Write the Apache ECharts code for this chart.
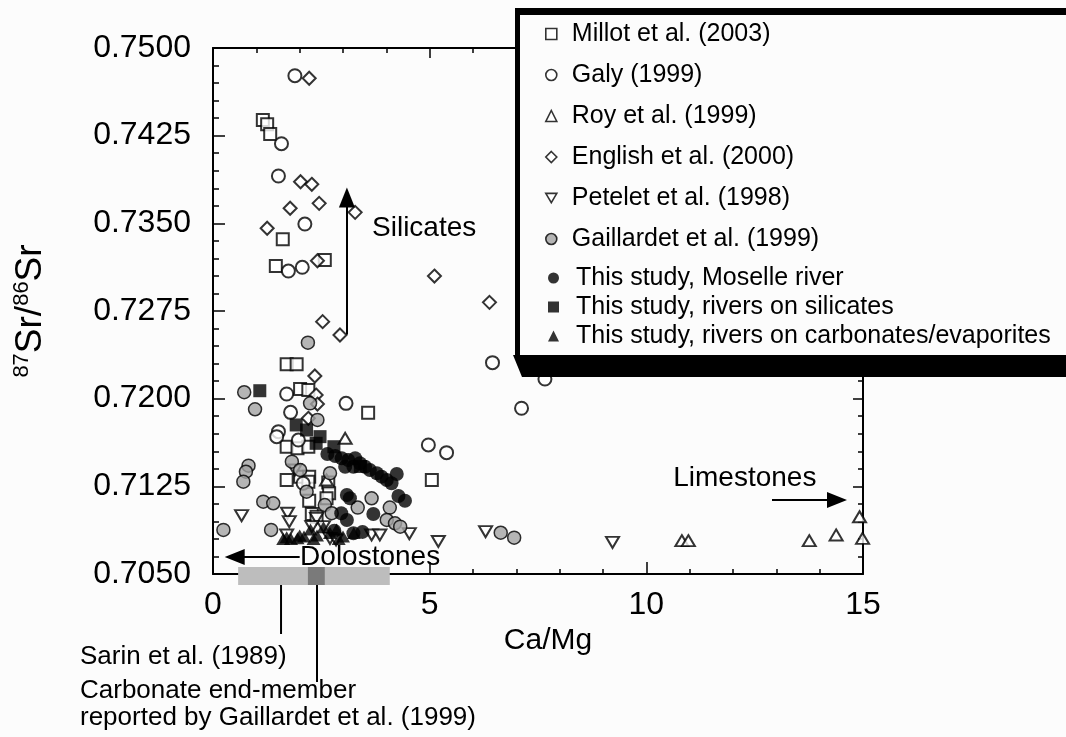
<!DOCTYPE html>
<html>
<head>
<meta charset="utf-8">
<script src="https://cdn.jsdelivr.net/npm/echarts@6/dist/echarts.min.js"></script>
<style>
  html, body { margin: 0; padding: 0; background: #fcfcfc; }
  #chart { width: 1066px; height: 737px; }
</style>
</head>
<body>
<div id="chart"></div>
<script>
const FONT = '"Liberation Sans", Arial, sans-serif';

// Series names, in legend order
const seriesNames = [
  'Millot et al. (2003)',
  'Galy (1999)',
  'Roy et al. (1999)',
  'English et al. (2000)',
  'Petelet et al. (1998)',
  'Gaillardet et al. (1999)',
  'This study, Moselle river',
  'This study, rivers on silicates',
  'This study, rivers on carbonates/evaporites'
];

// [Ca/Mg, 87Sr/86Sr]
const millot = [
  [1.15, 0.74384], [1.25, 0.74347], [1.32, 0.74264], [1.61, 0.73363], [1.45, 0.73135],
  [2.58, 0.73186], [1.70, 0.72294], [1.93, 0.72294], [2.01, 0.72083], [2.20, 0.72074],
  [3.58, 0.71880], [1.70, 0.71589], [1.95, 0.71575], [2.20, 0.71589], [1.70, 0.71304],
  [2.01, 0.71333], [2.22, 0.71333], [2.20, 0.71290], [2.66, 0.71282], [2.68, 0.71190],
  [2.62, 0.71148], [2.22, 0.71127], [2.28, 0.71013], [2.39, 0.70990], [5.05, 0.71304]
];
const galy = [
  [1.89, 0.74763], [1.58, 0.74181], [1.51, 0.73905], [2.12, 0.73494], [1.74, 0.73092],
  [2.06, 0.73124], [1.70, 0.72040], [3.07, 0.71960], [1.79, 0.71883], [1.51, 0.71718],
  [1.47, 0.71675], [1.97, 0.71646], [2.08, 0.71276], [4.97, 0.71604], [5.39, 0.71538],
  [6.45, 0.72308], [7.12, 0.71918], [7.66, 0.72168]
];
const roy = [
  [3.05, 0.71661], [2.62, 0.71304], [10.82, 0.70785], [10.97, 0.70785], [13.76, 0.70785],
  [14.38, 0.70834], [14.92, 0.70990], [14.99, 0.70805]
];
const english = [
  [2.22, 0.74741], [2.02, 0.73856], [2.28, 0.73834], [1.78, 0.73629], [2.45, 0.73671],
  [3.28, 0.73594], [1.25, 0.73458], [2.41, 0.73180], [2.53, 0.72659], [2.93, 0.72545],
  [2.35, 0.72194], [2.38, 0.72031], [2.41, 0.71954], [2.20, 0.71832], [5.11, 0.73049],
  [6.38, 0.72824]
];
const petelet = [
  [1.89, 0.71390], [0.66, 0.70999], [1.72, 0.71020], [1.76, 0.70948], [2.39, 0.70976],
  [2.55, 0.70905], [2.28, 0.70905], [1.70, 0.70834], [2.70, 0.70805], [2.84, 0.70791],
  [3.66, 0.70834], [3.85, 0.70834], [4.53, 0.70845], [5.20, 0.70778], [6.29, 0.70862],
  [9.22, 0.70771]
];
const gaillardet = [
  [0.72, 0.72055], [0.97, 0.71909], [2.19, 0.72479], [2.24, 0.71960], [2.41, 0.71818],
  [0.82, 0.71427], [0.76, 0.71375], [0.70, 0.71290], [1.82, 0.71461], [2.01, 0.71390],
  [2.70, 0.71362], [2.16, 0.71204], [1.16, 0.71119], [1.39, 0.71105], [2.58, 0.71090],
  [3.66, 0.71148], [3.34, 0.71068], [4.08, 0.71068], [2.74, 0.71020], [4.01, 0.70962],
  [4.20, 0.70934], [4.32, 0.70905], [0.24, 0.70877], [1.34, 0.70877], [6.64, 0.70853],
  [6.95, 0.70811]
];
const moselle = [
  [2.64, 0.71527], [2.82, 0.71510], [2.97, 0.71490], [3.12, 0.71475], [3.28, 0.71490],
  [3.39, 0.71447], [3.51, 0.71418], [3.24, 0.71418], [3.05, 0.71418], [3.62, 0.71390],
  [3.78, 0.71362], [3.89, 0.71333], [4.01, 0.71304], [4.24, 0.71356], [4.12, 0.71276],
  [4.28, 0.71167], [4.43, 0.71127], [3.09, 0.71176], [3.16, 0.71148], [2.96, 0.71020],
  [3.70, 0.71013], [3.09, 0.70962], [3.24, 0.70848], [2.80, 0.70870], [3.45, 0.70860]
];
const silicateRivers = [
  [1.08, 0.72068], [1.92, 0.71775], [2.16, 0.71732], [2.47, 0.71675], [2.38, 0.71618],
  [2.79, 0.71589], [3.40, 0.71420]
];
const carbonateRivers = [
  [1.62, 0.70800], [1.80, 0.70800], [1.95, 0.70805], [2.10, 0.70820], [2.25, 0.70880],
  [2.40, 0.70830], [2.55, 0.70900], [2.70, 0.70850], [2.85, 0.70880], [3.00, 0.70820],
  [3.25, 0.70850], [1.70, 0.70815], [2.00, 0.70830], [2.32, 0.70800], [2.90, 0.70800]
];

// Axis ranges
const xRange = [0, 15, 5];
const yRange = [0.705, 0.750, 0.0075];

// Annotation arrows [from, to] in data units
const arrows = [
  [[3.09, 0.7255], [3.09, 0.7372]],
  [[12.90, 0.71133], [14.40, 0.71133]],
  [[2.00, 0.70646], [0.50, 0.70646]]
];
// Annotation words: [text, x, y] (left edge, vertical middle)
const notes = [
  ['Silicates', 3.67, 0.73460],
  ['Limestones', 10.62, 0.71321],
  ['Dolostones', 2.01, 0.70646]
];
// Carbonate end-member ranges along Ca/Mg
const endMemberRange = [0.58, 4.08];
const gaillardetRange = [2.19, 2.58];
const sarinX = 1.57;
const gaillardetX = 2.40;

const chart = echarts.init(document.getElementById('chart'));

const openStyle = { color: '#fff', borderColor: '#000', borderWidth: 2 };
const DOWN_TRI = 'path://M0,0L12,0L6,10Z';

function scatter(name, data, symbol, size, itemStyle, extra) {
  return Object.assign({
    name, type: 'scatter', data, symbol, symbolSize: size,
    itemStyle, silent: true, animation: false,
    emphasis: { disabled: true }
  }, extra || {});
}

const axisCommon = {
  type: 'value',
  axisLine: { show: true, onZero: false, lineStyle: { color: '#000', width: 2 } },
  splitLine: { show: false },
  minorSplitLine: { show: false }
};

const legendText = {
  fontSize: 25, fontFamily: FONT, color: '#000', lineHeight: 28
};

chart.setOption({
  backgroundColor: '#fcfcfc',
  animation: false,
  grid: { left: 213, top: 48, right: 203, bottom: 163 },
  xAxis: [
    Object.assign({}, axisCommon, {
      min: xRange[0], max: xRange[1], interval: xRange[2], position: 'bottom',
      axisTick: { inside: true, length: 12, lineStyle: { color: '#000', width: 1.5 } },
      minorTick: { show: true, splitNumber: 5, length: 5, lineStyle: { color: '#000', width: 1.5 } },
      axisLabel: { fontSize: 32, fontFamily: FONT, color: '#000', margin: 15 },
      name: 'Ca/Mg', nameLocation: 'middle', nameGap: 50,
      nameTextStyle: { fontSize: 30, fontFamily: FONT, color: '#000', padding: [0, 0, 0, 20] }
    }),
    Object.assign({}, axisCommon, {
      min: xRange[0], max: xRange[1], interval: xRange[2], position: 'top',
      axisTick: { inside: true, length: 10, lineStyle: { color: '#000', width: 1.5 } },
      minorTick: { show: true, splitNumber: 5, length: 5, lineStyle: { color: '#000', width: 1.5 } },
      axisLabel: { show: false }
    })
  ],
  yAxis: [
    Object.assign({}, axisCommon, {
      min: yRange[0], max: yRange[1], interval: yRange[2], position: 'left',
      axisTick: { inside: true, length: 12, lineStyle: { color: '#000', width: 1.5 } },
      minorTick: { show: true, splitNumber: 5, length: 6, lineStyle: { color: '#000', width: 1.5 } },
      axisLabel: { fontSize: 32, fontFamily: FONT, color: '#000', margin: 22,
        formatter: v => v.toFixed(4) },
      name: '{sup|87}{b|Sr/}{sup|86}{b|Sr}', nameLocation: 'middle', nameRotate: 90, nameGap: 162,
      nameTextStyle: {
        fontFamily: FONT, color: '#000',
        rich: {
          b: { fontSize: 37, fontFamily: FONT, color: '#000', lineHeight: 40 },
          sup: { fontSize: 22, fontFamily: FONT, color: '#000', lineHeight: 22, verticalAlign: 'top' }
        }
      }
    }),
    Object.assign({}, axisCommon, {
      min: yRange[0], max: yRange[1], interval: yRange[2], position: 'right',
      axisTick: { inside: true, length: 10, lineStyle: { color: '#000', width: 1.5 } },
      minorTick: { show: true, splitNumber: 5, length: 5, lineStyle: { color: '#000', width: 1.5 } },
      axisLabel: { show: false }
    })
  ],
  legend: [
    {
      data: seriesNames.slice(0, 6), orient: 'vertical', left: 540, top: 15,
      itemWidth: 11, itemHeight: 11, itemGap: 13, selectedMode: false, z: 20,
      itemStyle: { borderWidth: 1.6 },
      textStyle: Object.assign({ padding: [0, 0, 0, 10] }, legendText)
    },
    {
      data: seriesNames.slice(6), orient: 'vertical', left: 543, top: 259,
      itemWidth: 11, itemHeight: 11, itemGap: 1, selectedMode: false, z: 20,
      textStyle: Object.assign({ padding: [0, 0, 0, 12] }, legendText)
    }
  ],
  series: [
    scatter(seriesNames[0], millot, 'rect', 12, openStyle, {
      markLine: {
        silent: true, animation: false,
        symbol: ['none', 'triangle'], symbolSize: [16, 20],
        lineStyle: { color: '#000', width: 2, type: 'solid' },
        label: { show: false },
        data: arrows.map(a => [{ coord: a[0] }, { coord: a[1] }])
      }
    }),
    scatter(seriesNames[1], galy, 'circle', 13, openStyle),
    scatter(seriesNames[2], roy, 'triangle', [13, 11], openStyle),
    scatter(seriesNames[3], english, 'diamond', [13, 13], openStyle),
    scatter(seriesNames[4], petelet, DOWN_TRI, [13, 11], openStyle),
    scatter(seriesNames[5], gaillardet, 'circle', 13, { color: '#a3a3a3', borderColor: '#000', borderWidth: 1.5 }),
    scatter(seriesNames[6], moselle, 'circle', 14, { color: '#000' }),
    scatter(seriesNames[7], silicateRivers, 'rect', 13, { color: '#000' }),
    scatter(seriesNames[8], carbonateRivers, 'triangle', [14, 12], { color: '#000' })
  ]
});

// Overlay: legend frame, annotation words, end-member bands and captions
const px = (x, y) => chart.convertToPixel({ xAxisIndex: 0, yAxisIndex: 0 }, [x, y]);
const axisBottom = px(0, yRange[0])[1];
const graphics = [];

// Legend frame with heavy shadow
graphics.push({
  type: 'polygon', z: 15, silent: true,
  shape: { points: [[513, 355], [1066, 355], [1066, 377], [522, 377]] },
  style: { fill: '#000' }
});
graphics.push({
  type: 'rect', z: 15, silent: true,
  shape: { x: 515, y: 8, width: 551, height: 349 },
  style: { fill: '#000' }
});
graphics.push({
  type: 'rect', z: 16, silent: true,
  shape: { x: 520, y: 15, width: 546, height: 340 },
  style: { fill: '#fcfcfc' }
});

notes.forEach(([t, x, y]) => {
  const p = px(x, y);
  graphics.push({
    type: 'text', z: 10, silent: true, x: p[0], y: p[1],
    style: { text: t, fontSize: 28, fontFamily: FONT, fill: '#000', verticalAlign: 'middle', align: 'left' }
  });
});

// End-member bands straddling the x axis
const b0 = px(endMemberRange[0], yRange[0])[0];
const b1 = px(endMemberRange[1], yRange[0])[0];
graphics.push({
  type: 'rect', z: 10, silent: true,
  shape: { x: b0, y: axisBottom - 7, width: b1 - b0, height: 18 },
  style: { fill: '#bdbdbd' }
});
const g0 = px(gaillardetRange[0], yRange[0])[0];
const g1 = px(gaillardetRange[1], yRange[0])[0];
graphics.push({
  type: 'rect', z: 11, silent: true,
  shape: { x: g0, y: axisBottom - 7, width: g1 - g0, height: 18 },
  style: { fill: '#7a7a7a' }
});
const sx = px(sarinX, yRange[0])[0];
const gx = px(gaillardetX, yRange[0])[0];
graphics.push({
  type: 'line', z: 10, silent: true,
  shape: { x1: sx, y1: axisBottom + 11, x2: sx, y2: axisBottom + 60 },
  style: { stroke: '#000', lineWidth: 2 }
});
graphics.push({
  type: 'line', z: 10, silent: true,
  shape: { x1: gx, y1: axisBottom + 11, x2: gx, y2: axisBottom + 108 },
  style: { stroke: '#000', lineWidth: 2 }
});

const captions = [
  ['Sarin et al. (1989)', 657],
  ['Carbonate end-member', 691],
  ['reported by Gaillardet et al. (1999)', 718]
];
captions.forEach(([t, y]) => {
  graphics.push({
    type: 'text', z: 10, silent: true, x: 80, y: y,
    style: { text: t, fontSize: 26, fontFamily: FONT, fill: '#000', verticalAlign: 'middle', align: 'left' }
  });
});

chart.setOption({ graphic: graphics });
</script>
</body>
</html>
